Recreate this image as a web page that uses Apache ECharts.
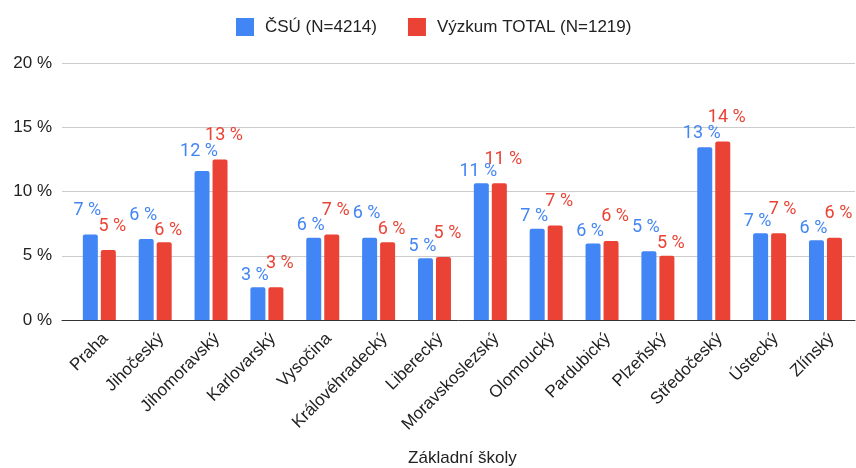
<!DOCTYPE html>
<html><head><meta charset="utf-8">
<script src="https://cdn.jsdelivr.net/npm/echarts@6/dist/echarts.min.js"></script>
<style>html,body{margin:0;padding:0;background:#fff}#c{width:856px;height:468px}</style>
</head><body><div id="c"></div>
<script>
const categories = ['Praha','Jihočeský','Jihomoravský','Karlovarský','Vysočina','Královéhradecký','Liberecký','Moravskoslezský','Olomoucký','Pardubický','Plzeňský','Středočeský','Ústecký','Zlínský'];
const csuValues = [6.65, 6.3, 11.6, 2.55, 6.4, 6.4, 4.8, 10.65, 7.1, 5.95, 5.35, 13.45, 6.75, 6.2];
const vyzkumValues = [5.45, 6.05, 12.5, 2.55, 6.65, 6.05, 4.9, 10.65, 7.35, 6.15, 5.0, 13.9, 6.75, 6.4];
const seriesNames = ['ČSÚ (N=4214)', 'Výzkum TOTAL (N=1219)'];
const yTicks = [0, 5, 10, 15, 20];
const axisTitle = 'Základní školy';

const chart = echarts.init(document.getElementById('c'));
const AX = 'Liberation Sans, Arial, sans-serif';
const LBL = 'Roboto, sans-serif';
const allVals = [csuValues, vyzkumValues];

// Google-Sheets-like staggering of the two labels in a group
function makeLayout(si, dx) {
  return function (p) {
    const r = p.rect;
    const top = Math.min(r.y, r.y + r.height);
    const h = Math.abs(r.height);
    const own = allVals[si][p.dataIndex];
    const other = allVals[1 - si][p.dataIndex];
    const ppu = own ? h / own : 0;
    const ownHigher = own > other || (own === other && si === 1);
    let cy;
    if (ownHigher) {
      cy = top - 24;
    } else {
      const otherTop = top - (other - own) * ppu;
      cy = Math.min(otherTop - 24 + 16, top - 12);
    }
    return { x: r.x + r.width / 2 + dx, y: cy, align: 'center', verticalAlign: 'middle' };
  };
}
function mkLabel(color) {
  return {
    show: true, position: 'top', distance: 11,
    color: color, fontFamily: LBL, fontSize: 18,
    formatter: p => Math.round(p.value) + ' %'
  };
}
chart.setOption({
  animation: false,
  legend: {
    left: 231, top: 13, itemWidth: 18, itemHeight: 18, itemGap: 31,
    icon: 'rect',
    textStyle: { fontFamily: AX, fontSize: 17, color: '#222', padding: [0, 0, 0, 6] },
    data: seriesNames
  },
  grid: [
    { left: 71.4, right: 2.6, top: 63, bottom: 148, outerBoundsMode: 'none', containLabel: false },
    { left: 62, right: 1, top: 63, bottom: 148, outerBoundsMode: 'none', containLabel: false }
  ],
  xAxis: [
    {
      type: 'category', gridIndex: 0, data: categories,
      axisLine: { show: false }, axisTick: { show: false },
      axisLabel: { rotate: 45, margin: 10, verticalAlign: 'top', fontFamily: AX, fontSize: 17, color: '#222', interval: 0 },
      name: axisTitle, nameLocation: 'middle', nameGap: 130,
      nameTextStyle: { fontFamily: AX, fontSize: 17, color: '#222' }
    },
    {
      type: 'value', gridIndex: 1, min: 0, max: 1,
      axisLine: { show: true, lineStyle: { color: '#333', width: 1 } },
      axisTick: { show: false }, axisLabel: { show: false }, splitLine: { show: false }
    }
  ],
  yAxis: [
    {
      type: 'value', gridIndex: 0, min: yTicks[0], max: yTicks[yTicks.length - 1], interval: 5,
      show: false, splitLine: { show: false }
    },
    {
      type: 'value', gridIndex: 1, min: yTicks[0], max: yTicks[yTicks.length - 1], interval: 5,
      axisLine: { show: false }, axisTick: { show: false },
      axisLabel: { formatter: '{value} %', fontFamily: AX, fontSize: 17, color: '#222', margin: 10 },
      splitLine: { lineStyle: { color: '#cccccc', width: 1 } }
    }
  ],
  series: [
    {
      name: seriesNames[0], type: 'bar', xAxisIndex: 0, yAxisIndex: 0,
      data: csuValues, barWidth: 15, barGap: '20%',
      itemStyle: { color: '#4285F4', borderRadius: [2, 2, 0, 0] },
      label: mkLabel('#4285F4'),
      labelLayout: makeLayout(0, -3)
    },
    {
      name: seriesNames[1], type: 'bar', xAxisIndex: 0, yAxisIndex: 0,
      data: vyzkumValues, barWidth: 15,
      itemStyle: { color: '#EA4335', borderRadius: [2, 2, 0, 0] },
      label: mkLabel('#EA4335'),
      labelLayout: makeLayout(1, 4)
    }
  ]
});
</script></body></html>
